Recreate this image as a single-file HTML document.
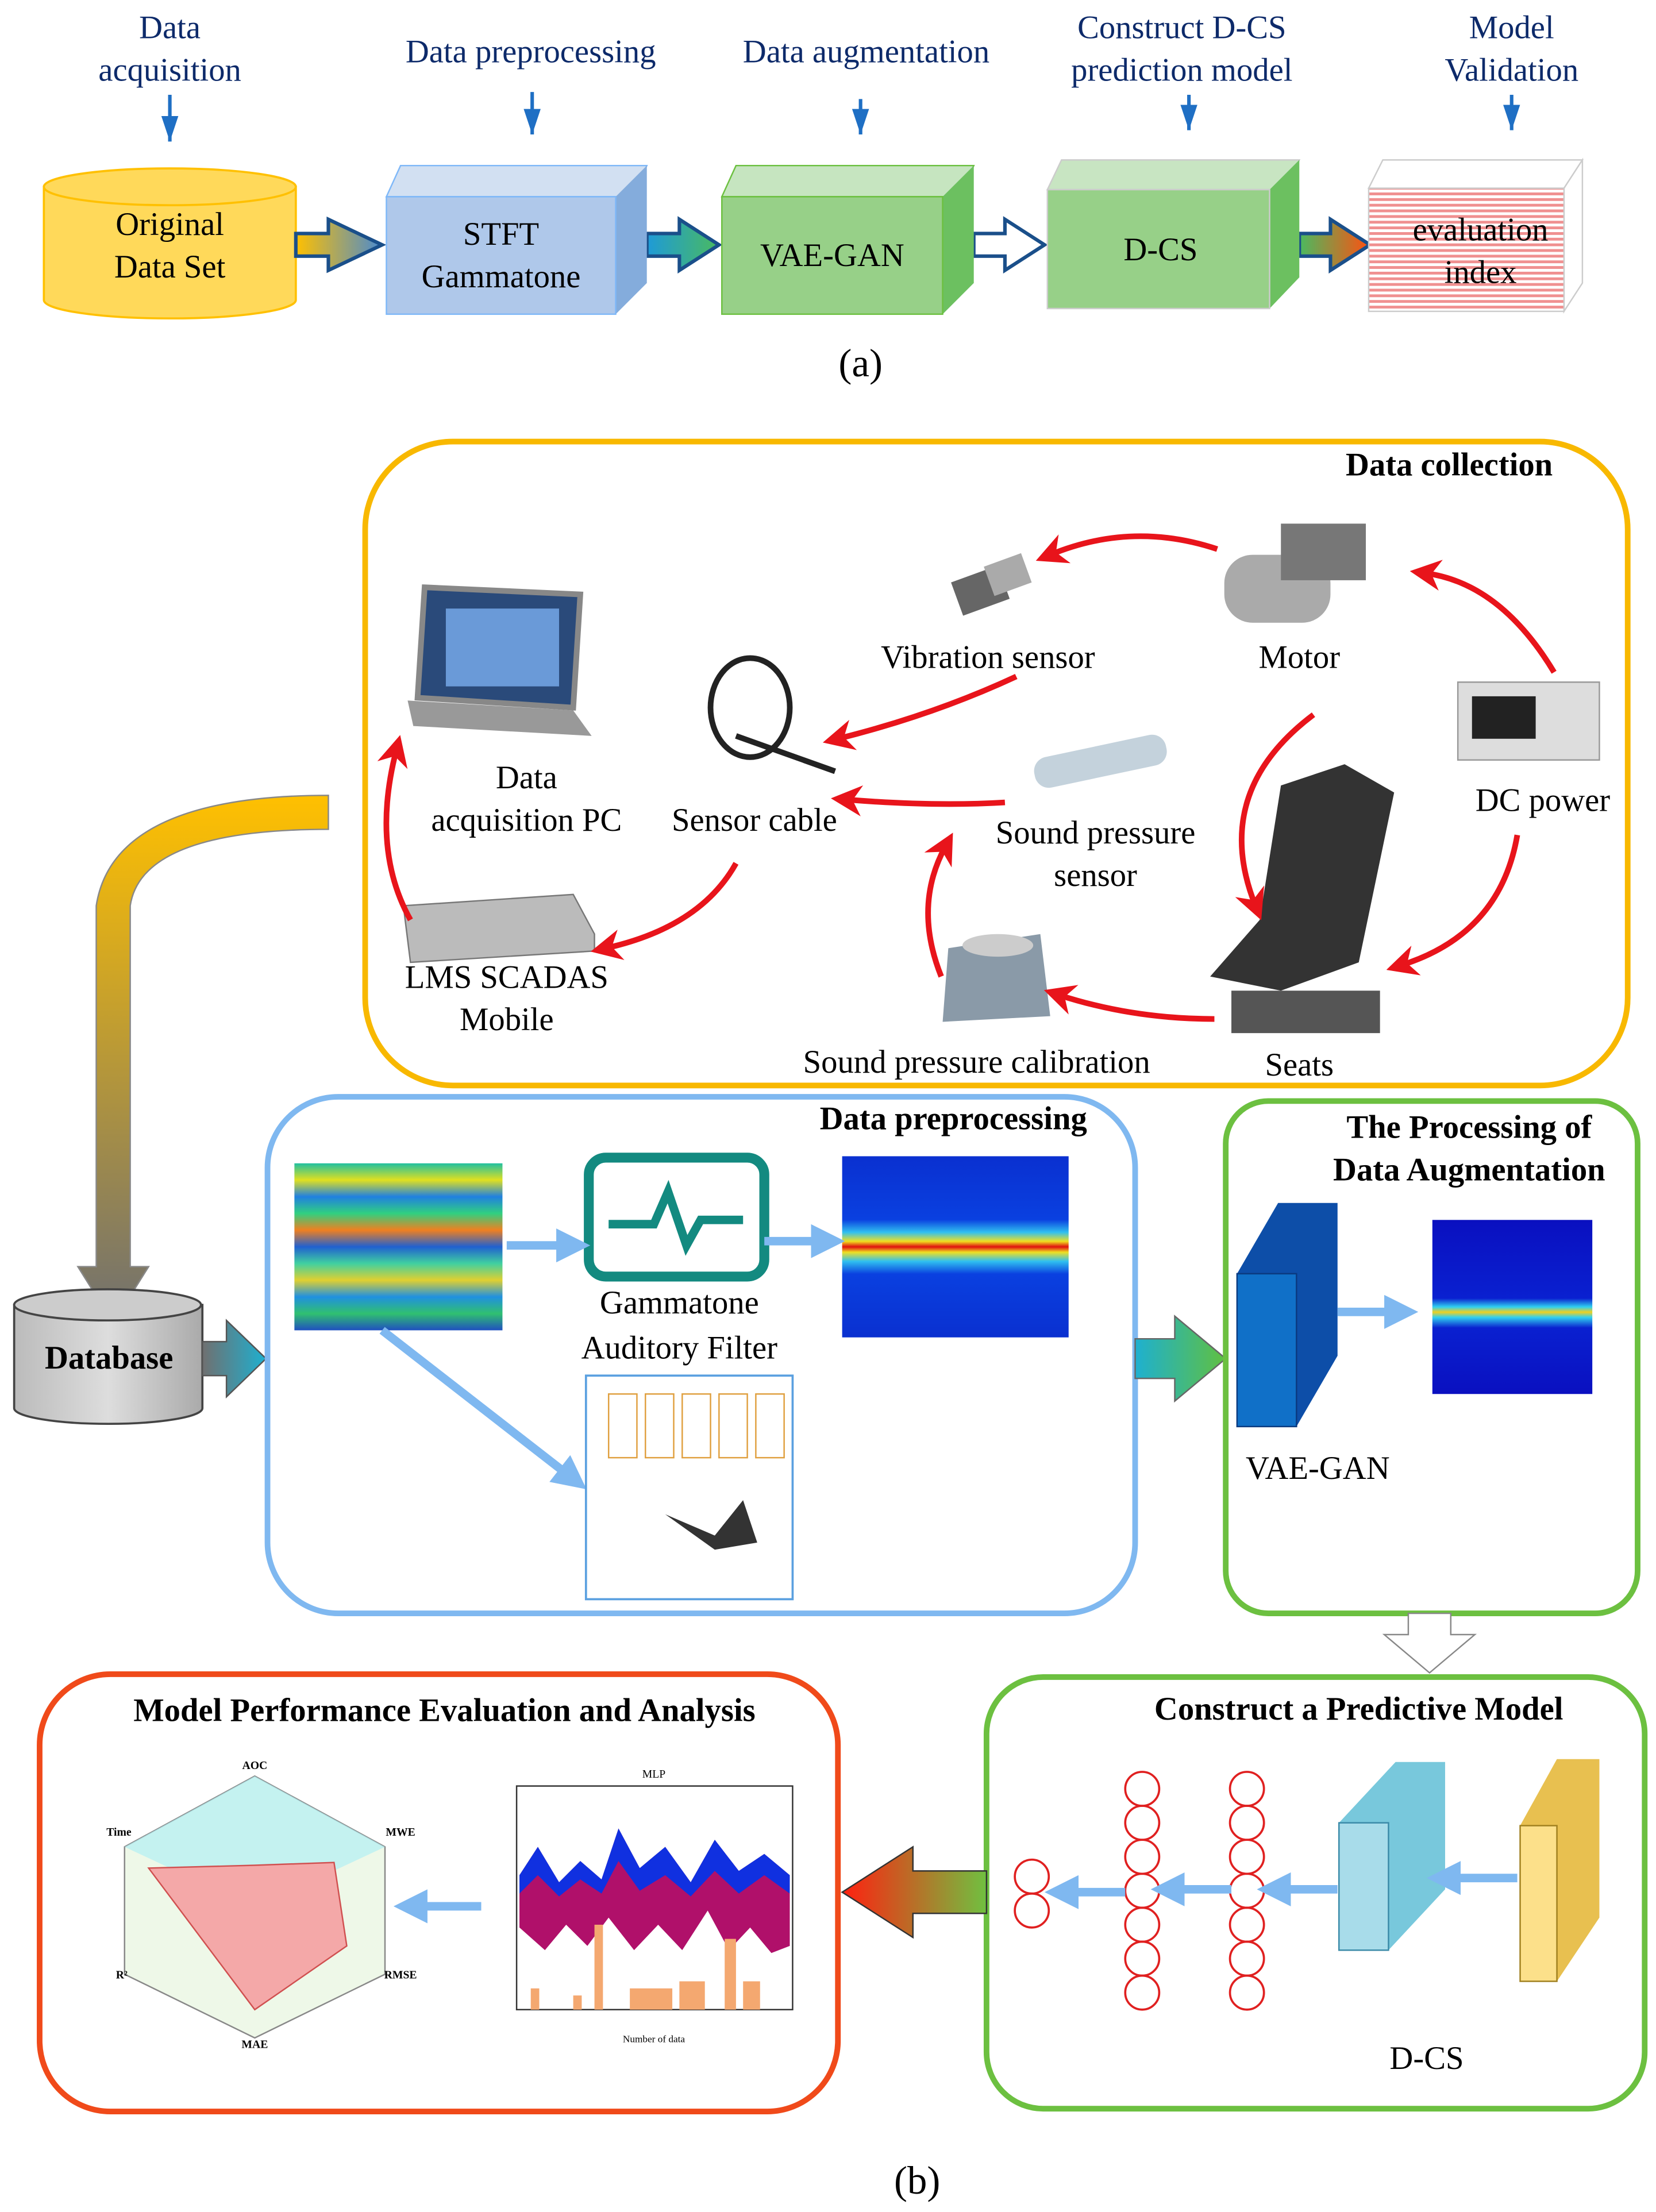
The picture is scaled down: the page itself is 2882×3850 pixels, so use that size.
<!DOCTYPE html>
<html><head><meta charset="utf-8"><style>html,body{margin:0;padding:0;background:#fff}svg{display:block}</style></head>
<body>
<svg width="2882" height="3850" viewBox="0 0 1170 1563" preserveAspectRatio="none" xmlns="http://www.w3.org/2000/svg" font-family="Liberation Serif, serif">
<defs>
<marker id="bh" viewBox="0 0 10 10" markerWidth="12" markerHeight="18" refX="5" refY="10" orient="0" markerUnits="userSpaceOnUse" preserveAspectRatio="none"><path d="M0,0 L10,0 L5,10z" fill="#1f6fc4"/></marker>
<marker id="rh" viewBox="0 0 10 10" markerWidth="22" markerHeight="22" refX="5" refY="5" orient="auto" markerUnits="userSpaceOnUse"><path d="M0,0 L10,5 L0,10 L3,5z" fill="#e8141b"/></marker>
<marker id="lb" viewBox="0 0 10 10" markerWidth="24" markerHeight="24" refX="5" refY="5" orient="auto" markerUnits="userSpaceOnUse"><path d="M0,0 L10,5 L0,10z" fill="#7fb8f0"/></marker>
<linearGradient id="g1"><stop offset="0" stop-color="#ffc000"/><stop offset="1" stop-color="#4a8ad0"/></linearGradient>
<linearGradient id="g2"><stop offset="0" stop-color="#1e9ad8"/><stop offset="1" stop-color="#4aba60"/></linearGradient>
<linearGradient id="g3"><stop offset="0" stop-color="#4aba60"/><stop offset="1" stop-color="#ff5010"/></linearGradient>
<linearGradient id="g4" x1="0" y1="0" x2="0" y2="1"><stop offset="0" stop-color="#ffc000"/><stop offset="1" stop-color="#707070"/></linearGradient>
<linearGradient id="g5"><stop offset="0" stop-color="#707070"/><stop offset="1" stop-color="#1eb0d0"/></linearGradient>
<linearGradient id="g6"><stop offset="0" stop-color="#1eb0d0"/><stop offset="1" stop-color="#60c040"/></linearGradient>
<linearGradient id="g7"><stop offset="0" stop-color="#ff2010"/><stop offset="1" stop-color="#70c040"/></linearGradient>
<linearGradient id="spec1" x1="0" y1="0" x2="0" y2="1">
<stop offset="0" stop-color="#20c0a0"/><stop offset=".1" stop-color="#e0e020"/><stop offset=".2" stop-color="#2080e0"/><stop offset=".3" stop-color="#30d080"/><stop offset=".4" stop-color="#f08020"/><stop offset=".5" stop-color="#2060d0"/><stop offset=".6" stop-color="#40d0a0"/><stop offset=".7" stop-color="#e0d030"/><stop offset=".8" stop-color="#2090e0"/><stop offset=".9" stop-color="#30c070"/><stop offset="1" stop-color="#2050c0"/></linearGradient>
<linearGradient id="spec2" x1="0" y1="0" x2="0" y2="1">
<stop offset="0" stop-color="#0a30d0"/><stop offset=".35" stop-color="#0a40e0"/><stop offset=".42" stop-color="#30c0f0"/><stop offset=".47" stop-color="#f0e020"/><stop offset=".5" stop-color="#e01010"/><stop offset=".53" stop-color="#f0e020"/><stop offset=".58" stop-color="#30c0f0"/><stop offset=".65" stop-color="#0a40e0"/><stop offset="1" stop-color="#0a30d0"/></linearGradient>
<linearGradient id="spec3" x1="0" y1="0" x2="0" y2="1">
<stop offset="0" stop-color="#0a10c0"/><stop offset=".45" stop-color="#0a20d0"/><stop offset=".5" stop-color="#30d0f0"/><stop offset=".53" stop-color="#f0d020"/><stop offset=".56" stop-color="#30d0f0"/><stop offset=".62" stop-color="#0a20d0"/><stop offset="1" stop-color="#0a10c0"/></linearGradient>
<pattern id="pk" width="4" height="4" patternUnits="userSpaceOnUse"><rect width="4" height="4" fill="#fff"/><rect width="4" height="2" fill="#f09090"/></pattern>
<linearGradient id="cyl" x1="0" x2="1"><stop offset="0" stop-color="#bbb"/><stop offset=".5" stop-color="#ddd"/><stop offset="1" stop-color="#aaa"/></linearGradient>
</defs>

<g fill="#0d2a6a" font-size="23" text-anchor="middle">
<text x="120" y="27">Data</text><text x="120" y="57">acquisition</text>
<text x="375" y="44">Data preprocessing</text>
<text x="612" y="44">Data augmentation</text>
<text x="835" y="27">Construct D-CS</text><text x="835" y="57">prediction model</text>
<text x="1068" y="27">Model</text><text x="1068" y="57">Validation</text>
</g>
<g stroke="#1f6fc4" stroke-width="2.5" marker-end="url(#bh)">
<line x1="120" y1="67" x2="120" y2="100"/><line x1="376" y1="65" x2="376" y2="95"/><line x1="608" y1="70" x2="608" y2="95"/><line x1="840" y1="67" x2="840" y2="92"/><line x1="1068" y1="67" x2="1068" y2="92"/>
</g>
<path d="M31,132 L31,212 A89,13 0 0 0 209,212 L209,132z" fill="#ffd95a" stroke="#ffc000" stroke-width="1.5"/>
<ellipse cx="120" cy="132" rx="89" ry="13" fill="#ffd95a" stroke="#ffc000" stroke-width="1.5"/>
<g font-size="23" text-anchor="middle" fill="#000"><text x="120" y="166">Original</text><text x="120" y="196">Data Set</text></g>
<path d="M209,165 L232,165 L232,155 L270,173 L232,191 L232,181 L209,181z" fill="url(#g1)" stroke="#1a4f8a" stroke-width="2.5"/>
<path d="M457,165 L480,165 L480,155 L508,173 L480,191 L480,181 L457,181z" fill="url(#g2)" stroke="#1a4f8a" stroke-width="2.5"/>
<path d="M688,165 L710,165 L710,155 L738,173 L710,191 L710,181 L688,181z" fill="#fff" stroke="#1a4f8a" stroke-width="2.5"/>
<path d="M918,165 L940,165 L940,155 L968,173 L940,191 L940,181 L918,181z" fill="url(#g3)" stroke="#1a4f8a" stroke-width="2.5"/>
<path d="M273,139 L283,117 L457,117 L447,139z" fill="#d2e0f2" stroke="#7fb8f8"/>
<path d="M435,139 L457,117 L457,200 L435,222z" fill="#84acdc"/>
<rect x="273" y="139" width="162" height="83" fill="#afc8ea" stroke="#7fb8f8"/>
<g font-size="23" text-anchor="middle"><text x="354" y="173">STFT</text><text x="354" y="203">Gammatone</text></g>
<path d="M510,139 L520,117 L688,117 L678,139z" fill="#c6e5c0" stroke="#6cc040"/>
<path d="M666,139 L688,117 L688,200 L666,222z" fill="#6cc060"/>
<rect x="510" y="139" width="156" height="83" fill="#97d088" stroke="#6cc040"/>
<text x="588" y="188" font-size="23" text-anchor="middle">VAE-GAN</text>
<path d="M740,134 L750,113 L918,113 L908,134z" fill="#c8e5c2" stroke="#ccc"/>
<path d="M897,134 L918,113 L918,196 L897,218z" fill="#6cc060"/>
<rect x="740" y="134" width="157" height="84" fill="#97d088" stroke="#ccc"/>
<text x="820" y="184" font-size="23" text-anchor="middle">D-CS</text>
<path d="M967,133 L977,113 L1118,113 L1105,133z" fill="#fff" stroke="#ccc"/>
<path d="M1105,133 L1118,113 L1118,200 L1105,220z" fill="#fff" stroke="#ccc"/>
<rect x="967" y="133" width="138" height="87" fill="url(#pk)" stroke="#ccc"/>
<g font-size="23" text-anchor="middle"><text x="1046" y="170">evaluation</text><text x="1046" y="200">index</text></g>
<text x="608" y="266" font-size="28" text-anchor="middle">(a)</text>

<rect x="258" y="312" width="892" height="455" rx="62" fill="none" stroke="#f8b800" stroke-width="4"/>
<text x="1097" y="336" font-size="23" font-weight="bold" text-anchor="end">Data collection</text>
<path d="M300,415 L410,420 L405,500 L295,493z" fill="#2a4a7a" stroke="#888" stroke-width="4"/>
<rect x="315" y="430" width="80" height="55" fill="#6a9ad8"/>
<path d="M288,495 L405,502 L418,520 L292,513z" fill="#999"/>
<rect x="675" y="405" width="35" height="25" fill="#666" transform="rotate(-20 692 417)"/>
<rect x="698" y="395" width="28" height="22" fill="#aaa" transform="rotate(-20 712 406)"/>
<rect x="865" y="392" width="75" height="48" rx="20" fill="#aaa"/><rect x="905" y="370" width="60" height="40" fill="#777"/>
<ellipse cx="530" cy="500" rx="28" ry="35" fill="none" stroke="#222" stroke-width="4"/>
<line x1="520" y1="520" x2="590" y2="545" stroke="#222" stroke-width="4"/>
<rect x="730" y="527" width="95" height="22" rx="10" fill="#c4d2dc" transform="rotate(-12 777 538)"/>
<rect x="1030" y="482" width="100" height="55" fill="#ddd" stroke="#999"/><rect x="1040" y="492" width="45" height="30" fill="#222"/>
<path d="M905,555 L950,540 L985,560 L960,680 L905,700 L855,690 L890,650z" fill="#333"/>
<rect x="870" y="700" width="105" height="30" fill="#555"/>
<path d="M670,670 L735,660 L742,718 L666,722z" fill="#8a9aa8"/><ellipse cx="705" cy="668" rx="25" ry="8" fill="#ccc"/>
<path d="M285,640 L405,632 L420,660 L420,672 L290,680z" fill="#bbb" stroke="#777"/>
<g font-size="23" text-anchor="middle">
<text x="372" y="557">Data</text><text x="372" y="587">acquisition PC</text>
<text x="533" y="587">Sensor cable</text>
<text x="698" y="472">Vibration sensor</text>
<text x="918" y="472">Motor</text>
<text x="1090" y="573">DC power</text>
<text x="774" y="596">Sound pressure</text><text x="774" y="626">sensor</text>
<text x="358" y="698">LMS SCADAS</text><text x="358" y="728">Mobile</text>
<text x="690" y="758">Sound pressure calibration</text>
<text x="918" y="760">Seats</text>
</g>
<g fill="none" stroke="#e8141b" stroke-width="4" marker-end="url(#rh)">
<path d="M860,388 Q800,368 742,392"/>
<path d="M718,478 Q660,505 592,522"/>
<path d="M710,567 Q660,570 598,565"/>
<path d="M1098,475 Q1060,412 1007,405"/>
<path d="M928,505 Q855,560 887,640"/>
<path d="M1072,590 Q1060,660 990,682"/>
<path d="M858,720 Q800,720 748,703"/>
<path d="M665,690 Q645,640 668,598"/>
<path d="M520,610 Q495,655 428,670"/>
<path d="M290,650 Q262,600 280,530"/>
</g>
<path d="M232,562 L232,586 Q100,586 92,640 L92,895 L105,895 L80,935 L55,895 L68,895 L68,640 Q80,562 232,562z" fill="url(#g4)" stroke="#888"/>
<path d="M10,922 L10,995 A66,11 0 0 0 143,995 L143,922z" fill="url(#cyl)" stroke="#444" stroke-width="1.5"/>
<ellipse cx="76" cy="922" rx="66" ry="11" fill="#ccc" stroke="#444" stroke-width="1.5"/>
<text x="77" y="967" font-size="23" font-weight="bold" text-anchor="middle">Database</text>
<path d="M143,948 L160,948 L160,933 L188,960 L160,987 L160,972 L143,972z" fill="url(#g5)" stroke="#555"/>
<rect x="189" y="775" width="613" height="365" rx="50" fill="none" stroke="#7fb8f0" stroke-width="4"/>
<text x="768" y="798" font-size="23" font-weight="bold" text-anchor="end">Data preprocessing</text>
<rect x="208" y="822" width="147" height="118" fill="url(#spec1)"/>
<rect x="416" y="818" width="124" height="84" rx="12" fill="#fff" stroke="#138a80" stroke-width="7"/>
<path d="M430,865 L462,865 L472,842 L485,880 L495,862 L525,862" fill="none" stroke="#138a80" stroke-width="6"/>
<rect x="595" y="817" width="160" height="128" fill="url(#spec2)"/>
<g font-size="23" text-anchor="middle"><text x="480" y="928">Gammatone</text><text x="480" y="960">Auditory Filter</text></g>
<line x1="358" y1="880" x2="405" y2="880" stroke="#7fb8f0" stroke-width="6" marker-end="url(#lb)"/>
<line x1="540" y1="877" x2="585" y2="877" stroke="#7fb8f0" stroke-width="6" marker-end="url(#lb)"/>
<line x1="270" y1="940" x2="405" y2="1045" stroke="#7fb8f0" stroke-width="6" marker-end="url(#lb)"/>
<rect x="414" y="972" width="146" height="158" fill="#fff" stroke="#5aa0e0" stroke-width="1.5"/>
<g fill="none" stroke="#e0a040"><rect x="430" y="985" width="20" height="45"/><rect x="456" y="985" width="20" height="45"/><rect x="482" y="985" width="20" height="45"/><rect x="508" y="985" width="20" height="45"/><rect x="534" y="985" width="20" height="45"/></g>
<path d="M470,1070 L505,1085 L525,1060 L535,1090 L505,1095z" fill="#333"/>
<path d="M802,946 L830,946 L830,930 L866,960 L830,990 L830,974 L802,974z" fill="url(#g6)" stroke="#666"/>
<rect x="866" y="778" width="291" height="362" rx="30" fill="none" stroke="#6cc040" stroke-width="4"/>
<g font-size="23" font-weight="bold" text-anchor="middle"><text x="1038" y="804">The Processing of</text><text x="1038" y="834">Data Augmentation</text></g>
<path d="M874,900 L903,850 L945,850 L945,958 L916,1008 L874,1008z" fill="#0d4ea8"/>
<rect x="874" y="900" width="42" height="108" fill="#1070c8" stroke="#0a3a80"/>
<rect x="1012" y="862" width="113" height="123" fill="url(#spec3)"/>
<line x1="945" y1="927" x2="990" y2="927" stroke="#7fb8f0" stroke-width="6" marker-end="url(#lb)"/>
<text x="931" y="1045" font-size="23" text-anchor="middle">VAE-GAN</text>
<path d="M995,1140 L1025,1140 L1025,1155 L1042,1155 L1010,1182 L978,1155 L995,1155z" fill="#fff" stroke="#888"/>
<rect x="697" y="1185" width="465" height="305" rx="40" fill="none" stroke="#6cc040" stroke-width="4"/>
<text x="960" y="1215" font-size="23" font-weight="bold" text-anchor="middle">Construct a Predictive Model</text>
<g fill="none" stroke="#e02020" stroke-width="1.5">
<circle cx="729" cy="1326" r="12"/><circle cx="729" cy="1350" r="12"/>
<circle cx="807" cy="1264" r="12"/><circle cx="807" cy="1288" r="12"/><circle cx="807" cy="1312" r="12"/><circle cx="807" cy="1336" r="12"/><circle cx="807" cy="1360" r="12"/><circle cx="807" cy="1384" r="12"/><circle cx="807" cy="1408" r="12"/>
<circle cx="881" cy="1264" r="12"/><circle cx="881" cy="1288" r="12"/><circle cx="881" cy="1312" r="12"/><circle cx="881" cy="1336" r="12"/><circle cx="881" cy="1360" r="12"/><circle cx="881" cy="1384" r="12"/><circle cx="881" cy="1408" r="12"/>
</g>
<path d="M946,1288 L986,1245 L1021,1245 L1021,1335 L981,1378 L946,1378z" fill="#78c8dc"/>
<rect x="946" y="1288" width="35" height="90" fill="#a8dcea" stroke="#3a8aa8"/>
<path d="M1074,1290 L1100,1243 L1130,1243 L1130,1355 L1100,1400 L1074,1400z" fill="#e8c050"/>
<rect x="1074" y="1290" width="26" height="110" fill="#fce08a" stroke="#a08020"/>
<g stroke="#7fb8f0" stroke-width="6"><line x1="1072" y1="1327" x2="1020" y2="1327" marker-end="url(#lb)"/><line x1="945" y1="1335" x2="900" y2="1335" marker-end="url(#lb)"/><line x1="870" y1="1335" x2="825" y2="1335" marker-end="url(#lb)"/><line x1="795" y1="1337" x2="750" y2="1337" marker-end="url(#lb)"/></g>
<text x="1008" y="1462" font-size="23" text-anchor="middle">D-CS</text>
<path d="M697,1322 L645,1322 L645,1305 L595,1337 L645,1369 L645,1352 L697,1352z" fill="url(#g7)" stroke="#333"/>
<rect x="28" y="1183" width="564" height="309" rx="50" fill="none" stroke="#f04a1a" stroke-width="4"/>
<text x="314" y="1216" font-size="23" font-weight="bold" text-anchor="middle">Model Performance Evaluation and Analysis</text>
<polygon points="180,1255 272,1305 272,1395 180,1440 88,1395 88,1305" fill="#eef8e8" stroke="#888"/>
<polygon points="180,1255 272,1305 180,1348 88,1305" fill="#b2f0f4" opacity=".7"/>
<polygon points="180,1318 236,1316 245,1375 180,1420 105,1320" fill="#f4a8a8" stroke="#d05050"/>
<g font-size="8" font-weight="bold" text-anchor="middle"><text x="180" y="1250">AOC</text><text x="283" y="1297">MWE</text><text x="283" y="1398">RMSE</text><text x="180" y="1447">MAE</text><text x="86" y="1398">R²</text><text x="84" y="1297">Time</text></g>
<line x1="340" y1="1347" x2="290" y2="1347" stroke="#7fb8f0" stroke-width="6" marker-end="url(#lb)"/>
<rect x="365" y="1262" width="195" height="158" fill="#fff" stroke="#333"/>
<polygon points="367,1325 380,1305 395,1330 410,1315 425,1328 437,1292 452,1320 470,1305 488,1330 505,1300 522,1322 540,1310 558,1325 558,1375 545,1380 530,1362 515,1378 500,1350 482,1378 465,1360 448,1378 430,1355 415,1375 400,1360 385,1378 367,1362" fill="#b0106a"/>
<polygon points="367,1325 380,1305 395,1330 410,1315 425,1328 437,1292 452,1320 470,1305 488,1330 505,1300 522,1322 540,1310 558,1325 558,1338 540,1325 522,1338 505,1322 488,1340 470,1325 452,1336 437,1315 425,1338 410,1328 395,1340 380,1325 367,1338" fill="#1030e0"/>
<g fill="#f4a870"><rect x="375" y="1405" width="6" height="15"/><rect x="405" y="1410" width="6" height="10"/><rect x="420" y="1360" width="6" height="60"/><rect x="445" y="1405" width="30" height="15"/><rect x="480" y="1400" width="18" height="20"/><rect x="512" y="1370" width="8" height="50"/><rect x="525" y="1400" width="12" height="20"/></g>
<text x="462" y="1256" font-size="8" text-anchor="middle">MLP</text>
<text x="462" y="1443" font-size="7" text-anchor="middle">Number of data</text>
<text x="648" y="1550" font-size="28" text-anchor="middle">(b)</text>
</svg>
</body></html>
